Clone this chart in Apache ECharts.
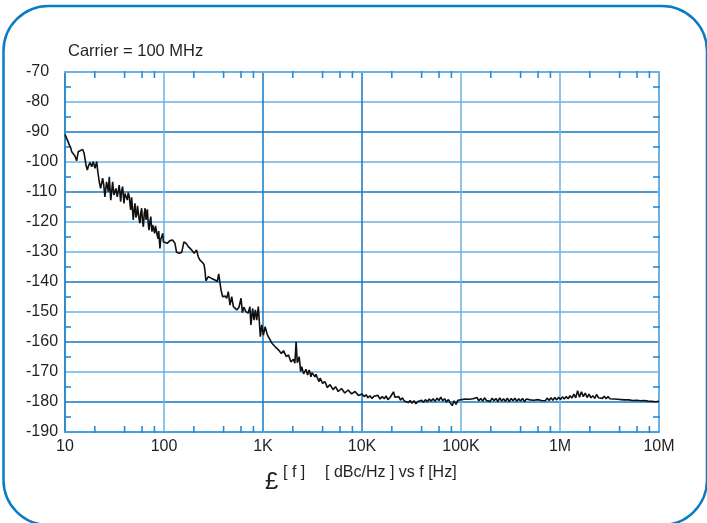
<!DOCTYPE html>
<html>
<head>
<meta charset="utf-8">
<script src="https://cdn.jsdelivr.net/npm/echarts@6/dist/echarts.min.js"></script>
<style>
html,body{margin:0;padding:0;background:#fff;}
#chart{width:707px;height:523px;}
</style>
</head>
<body>
<div id="chart"></div>
<script>
var noiseDecade1 = [[10,-90.8],[10.2,-91.3],[10.6,-92.8],[11.05,-94.3],[11.4,-95.2],[11.7,-96.6],[12.1,-97.1],[12.6,-98.0],[13.1,-99.6],[13.6,-96.6],[14.2,-97.1],[15.1,-95.8],[15.6,-97.1],[16.3,-101.0],[16.8,-102.7],[17.3,-101.2],[17.9,-100.2],[18.6,-101.6],[19.3,-99.9],[20.1,-102.1],[20.9,-99.9],[21.5,-103.5],[22.2,-106.6],[22.9,-108.8],[24.0,-105.4],[24.6,-107.5],[25.3,-111.6],[26.3,-106.6],[27.4,-109.9],[28.0,-104.9],[29.0,-112.7],[30.3,-106.6],[31.2,-111.0],[32.7,-108.8],[33.7,-111.6],[35.3,-107.7],[36.5,-113.2],[37.3,-109.6],[38.2,-108.2],[39.4,-113.8],[40.3,-110.5],[41.3,-109.9],[42.6,-112.7],[43.5,-110.2],[44.6,-111.6],[46.0,-116.0],[47.1,-111.8],[48.0,-115.6],[48.9,-119.3],[49.8,-116.2],[50.9,-113.8],[52.0,-118.5],[53.0,-117.7],[54.0,-114.6],[55.0,-115.1],[56.1,-119.2],[57.2,-120.4],[58.3,-116.8],[59.5,-115.4],[60.7,-119.8],[61.9,-121.6],[63.2,-117.2],[64.4,-115.4],[65.9,-119.3],[66.8,-117.0],[67.9,-115.8],[69.3,-120.6],[70.6,-122.7],[72.0,-119.8],[73.6,-118.2],[74.6,-121.4],[75.6,-123.2],[76.8,-121.0],[78.0,-120.4],[79.3,-122.9],[80.5,-123.8],[82.0,-121.3],[84.3,-121.6],[85.6,-124.5],[87.1,-125.6],[88.4,-123.0],[89.7,-122.7],[91.0,-128.8],[92.6,-125.8],[94.8,-125.4],[97.1,-123.8],[98.5,-126.6]];
var noiseDecade2 = [[102,-126.0],[107.6,-127.1],[115,-126.2],[122,-126.0],[129,-127.1],[134,-130.1],[143,-130.4],[151,-130.1],[159,-126.6],[167,-127.1],[176,-128.2],[190,-129.3],[202,-130.4],[213,-129.3],[222,-131.6],[231,-132.7],[246,-133.6],[254,-134.3],[259,-136.0],[265,-139.6],[280,-138.2],[303,-138.8],[327,-139.3],[345,-139.9],[357,-137.3],[368,-140.4],[377,-142.7],[391,-144.9],[414,-144.7],[430,-145.4],[446,-143.2],[464,-147.7],[483,-144.9],[502,-148.2],[522,-148.4],[543,-149.3],[572,-148.4],[600,-145.4],[619,-150.2],[640,-148.4],[671,-149.9],[708,-150.4],[737,-148.2],[755,-154.3],[786,-148.8],[811,-152.7],[837,-149.3],[864,-152.7],[897,-148.2],[940,-158.2],[972,-154.3],[1010,-157.7]];
var noiseDecade3 = [[1050,-154.9],[1110,-157.7],[1180,-159.3],[1230,-160.4],[1280,-161.0],[1330,-161.6],[1360,-162.1],[1440,-162.7],[1530,-163.8],[1610,-162.9],[1720,-164.9],[1810,-164.3],[1910,-166.6],[2030,-165.8],[2100,-167.1],[2160,-159.9],[2220,-166.9],[2320,-164.9],[2400,-169.9],[2460,-168.2],[2520,-168.8],[2570,-170.6],[2620,-170.4],[2720,-169.1],[2820,-171.0],[2930,-169.3],[3050,-171.6],[3130,-170.2],[3220,-169.9],[3340,-171.6],[3430,-170.8],[3520,-171.8],[3690,-173.2],[3780,-172.0],[3900,-172.4],[4000,-173.8],[4120,-174.3],[4200,-173.2],[4330,-174.0],[4450,-175.2],[4570,-174.9],[4760,-174.2],[4960,-174.7],[5100,-175.9],[5250,-175.8],[5400,-174.9],[5540,-175.4],[5750,-176.5],[5950,-176.2],[6200,-175.5],[6430,-176.0],[6700,-177.0],[6990,-176.7],[7250,-176.0],[7560,-176.4],[7850,-177.3],[8170,-177.1],[8500,-176.5],[8830,-176.9],[9200,-177.8],[9540,-177.6]];
var noiseFloor = [[10000,-177.3],[10500,-178.2],[11000,-177.6],[11500,-178.6],[12000,-177.9],[12600,-178.8],[13200,-178.1],[13800,-178.5],[14500,-177.8],[15200,-179.0],[16000,-178.2],[16800,-178.9],[17500,-178.0],[18300,-179.2],[19200,-178.5],[20000,-178.1],[20800,-176.6],[21500,-178.4],[22500,-179.0],[23500,-178.2],[24500,-179.4],[25600,-178.6],[26800,-179.7],[28000,-179.1],[29300,-180.2],[30600,-179.5],[32000,-180.4],[33500,-179.6],[35000,-180.6],[36600,-179.8],[38300,-180.3],[40000,-179.4],[41800,-180.1],[43700,-179.2],[45700,-179.9],[47800,-179.0],[50000,-179.7],[52300,-178.9],[54700,-179.8],[57200,-178.7],[59800,-179.5],[62500,-178.4],[65300,-179.6],[68300,-178.9],[71400,-180.0],[74600,-179.2],[78000,-180.3],[81500,-181.2],[85200,-179.6],[89100,-180.8],[93100,-179.4],[97300,-179.8],[101700,-179.2],[106300,-179.6],[111100,-179.0],[116100,-179.5],[121400,-179.1],[126900,-179.7],[132600,-178.9],[138600,-179.4],[144900,-178.5],[151400,-179.6],[158300,-178.8],[165400,-179.7],[172900,-178.6],[180700,-179.5],[188900,-178.9],[197400,-179.8],[206300,-178.7],[215600,-179.6],[225400,-178.8],[235600,-179.9],[246200,-178.6],[257300,-179.7],[269000,-178.9],[281100,-179.8],[293800,-178.7],[307100,-179.9],[321000,-178.8],[335500,-179.6],[350600,-178.7],[366500,-179.8],[383000,-178.9],[400300,-179.7],[418400,-178.8],[437300,-179.9],[457100,-179.0],[477700,-179.6],[499300,-179.3],[521800,-179.5],[545400,-179.4],[570000,-179.6],[595800,-179.2],[622700,-178.8],[650800,-179.5],[680200,-178.9],[711000,-179.6],[743100,-178.7],[776600,-179.5],[811700,-178.6],[848400,-179.4],[886700,-178.5],[926800,-179.3],[968600,-178.4],[1012000,-179.2],[1058000,-178.3],[1106000,-179.0],[1156000,-178.2],[1208000,-178.9],[1263000,-177.9],[1320000,-178.7],[1380000,-177.4],[1442000,-178.6],[1507000,-176.2],[1575000,-178.4],[1646000,-176.6],[1720000,-178.2],[1798000,-177.0],[1879000,-178.5],[1964000,-177.4],[2053000,-178.6],[2146000,-177.9],[2243000,-178.8],[2344000,-177.5],[2450000,-178.6],[2560000,-178.0],[2676000,-178.8],[2797000,-178.1],[2923000,-178.9],[3055000,-178.2],[3193000,-178.9],[3337000,-178.3],[3488000,-179.0],[3645000,-178.4],[3810000,-179.1],[3982000,-178.5],[4162000,-179.2],[4350000,-178.6],[4546000,-179.3],[4752000,-178.7],[4966000,-179.3],[5190000,-178.8],[5425000,-179.5],[5670000,-178.9],[5926000,-179.4],[6193000,-179.0],[6473000,-179.6],[6765000,-179.1],[7071000,-179.5],[7390000,-179.2],[7724000,-179.7],[8073000,-179.3],[8437000,-179.8],[8818000,-179.4],[9216000,-179.9],[9632000,-179.6],[10000000,-179.8]];

var freqTickLabels = ['10','100','1K','10K','100K','1M','10M'];
var minorFreqTicks = [20,40,60,80,200,400,600,800,2000,4000,6000,8000,20000,40000,60000,80000,200000,400000,600000,800000,2000000,4000000,6000000,8000000];
var minorLevelTicks = [-185,-175,-165,-155,-145,-135,-125,-115,-105,-95,-85,-75];
var freqMin = 10, freqMax = 10000000;
var yMin = -190, yMax = -70, yStep = 10;

var phaseNoise = noiseDecade1.concat(noiseDecade2, noiseDecade3, noiseFloor);

var DARK = '#1479c4', LIGHT = '#6cb1e2', TICK = '#2a8ad0';
var FONT = "'Liberation Sans', Arial, sans-serif";
var TXT = '#231f20';
var TICK_LEN = 6;

function tickSeries(points, size) {
  return {
    type: 'line',
    data: points,
    lineStyle: {width: 0, opacity: 0},
    showSymbol: true, symbol: 'rect', symbolSize: size,
    itemStyle: {color: TICK},
    clip: false, silent: true, z: 4
  };
}

var chart = echarts.init(document.getElementById('chart'), null, {renderer: 'canvas'});
chart.setOption({
  animation: false,
  backgroundColor: '#ffffff',
  grid: {left: 65, right: 48, top: 72, bottom: 91, containLabel: false},
  xAxis: [
    {
      type: 'log', logBase: 10, min: freqMin, max: freqMax, splitNumber: 6,
      position: 'bottom',
      axisLine: {show: true, onZero: false, lineStyle: {color: '#4aa0dc', width: 2}},
      axisTick: {show: false},
      axisLabel: {
        show: true, margin: 7, color: TXT, fontSize: 16, fontFamily: FONT,
        formatter: function (v) { return freqTickLabels[Math.round(Math.log10(v)) - 1]; }
      },
      splitLine: {show: true, lineStyle: {width: 1.5, color: [DARK, LIGHT, DARK, DARK, LIGHT, LIGHT, LIGHT]}},
      minorTick: {show: false}
    },
    {
      type: 'log', logBase: 10, min: freqMin, max: freqMax, splitNumber: 6,
      position: 'top',
      axisLine: {show: true, onZero: false, lineStyle: {color: LIGHT, width: 2}},
      axisTick: {show: false},
      axisLabel: {show: false},
      splitLine: {show: false},
      minorTick: {show: false}
    }
  ],
  yAxis: [
    {
      type: 'value', min: yMin, max: yMax, interval: yStep, position: 'left',
      axisLine: {show: true, onZero: false, lineStyle: {color: '#2f8dd0', width: 2}},
      axisTick: {show: false},
      minorTick: {show: false},
      axisLabel: {show: true, align: 'left', margin: 39, color: TXT, fontSize: 16, fontFamily: FONT},
      splitLine: {show: true, lineStyle: {width: 1.5, color: [LIGHT, DARK, LIGHT, DARK, LIGHT, DARK, LIGHT, LIGHT, DARK, LIGHT, DARK, LIGHT, LIGHT]}}
    },
    {
      type: 'value', min: yMin, max: yMax, interval: yStep, position: 'right',
      axisLine: {show: true, onZero: false, lineStyle: {color: LIGHT, width: 2}},
      axisTick: {show: false},
      minorTick: {show: false},
      axisLabel: {show: false},
      splitLine: {show: false}
    }
  ],
  series: [
    {
      type: 'line',
      data: phaseNoise,
      showSymbol: false,
      symbol: 'none',
      clip: true,
      lineStyle: {color: '#111111', width: 1.6},
      z: 5
    },
    tickSeries(minorFreqTicks.map(function (f) { return [f, yMin]; }), [1.6, TICK_LEN * 2]),
    tickSeries(minorFreqTicks.map(function (f) { return [f, yMax]; }), [1.6, TICK_LEN * 2]),
    tickSeries(minorLevelTicks.map(function (v) { return [freqMin, v]; }), [TICK_LEN * 2, 1.6]),
    tickSeries(minorLevelTicks.map(function (v) { return [freqMax, v]; }), [TICK_LEN * 2, 1.6])
  ],
  graphic: [
    {type: 'rect', shape: {x: 3.5, y: 6, width: 703.5, height: 519, r: 45}, style: {fill: 'none', stroke: '#0a7cc4', lineWidth: 2.5}, z: 10, silent: true},
    {type: 'rect', shape: {x: 58.5, y: 66, width: 5.5, height: 372}, style: {fill: '#ffffff'}, z: 9, silent: true},
    {type: 'rect', shape: {x: 660, y: 66, width: 7, height: 372}, style: {fill: '#ffffff'}, z: 9, silent: true},
    {type: 'rect', shape: {x: 62, y: 65, width: 600, height: 6}, style: {fill: '#ffffff'}, z: 9, silent: true},
    {type: 'rect', shape: {x: 62, y: 433, width: 600, height: 6}, style: {fill: '#ffffff'}, z: 9, silent: true},
    {type: 'text', left: 68, top: 43, z: 11, style: {text: 'Carrier = 100 MHz', fill: TXT, font: "16.5px 'Liberation Sans', Arial, sans-serif"}},
    {type: 'text', x: 265, y: 482, z: 11, style: {text: '£', fill: TXT, font: "24px 'Liberation Sans', Arial, sans-serif", verticalAlign: 'middle'}},
    {type: 'text', x: 283, y: 473, z: 11, style: {text: '[ f ]', fill: TXT, font: "16px 'Liberation Sans', Arial, sans-serif", verticalAlign: 'middle'}},
    {type: 'text', x: 325, y: 473, z: 11, style: {text: '[ dBc/Hz ] vs f [Hz]', fill: TXT, font: "16px 'Liberation Sans', Arial, sans-serif", verticalAlign: 'middle'}}
  ]
});
</script>
</body>
</html>
